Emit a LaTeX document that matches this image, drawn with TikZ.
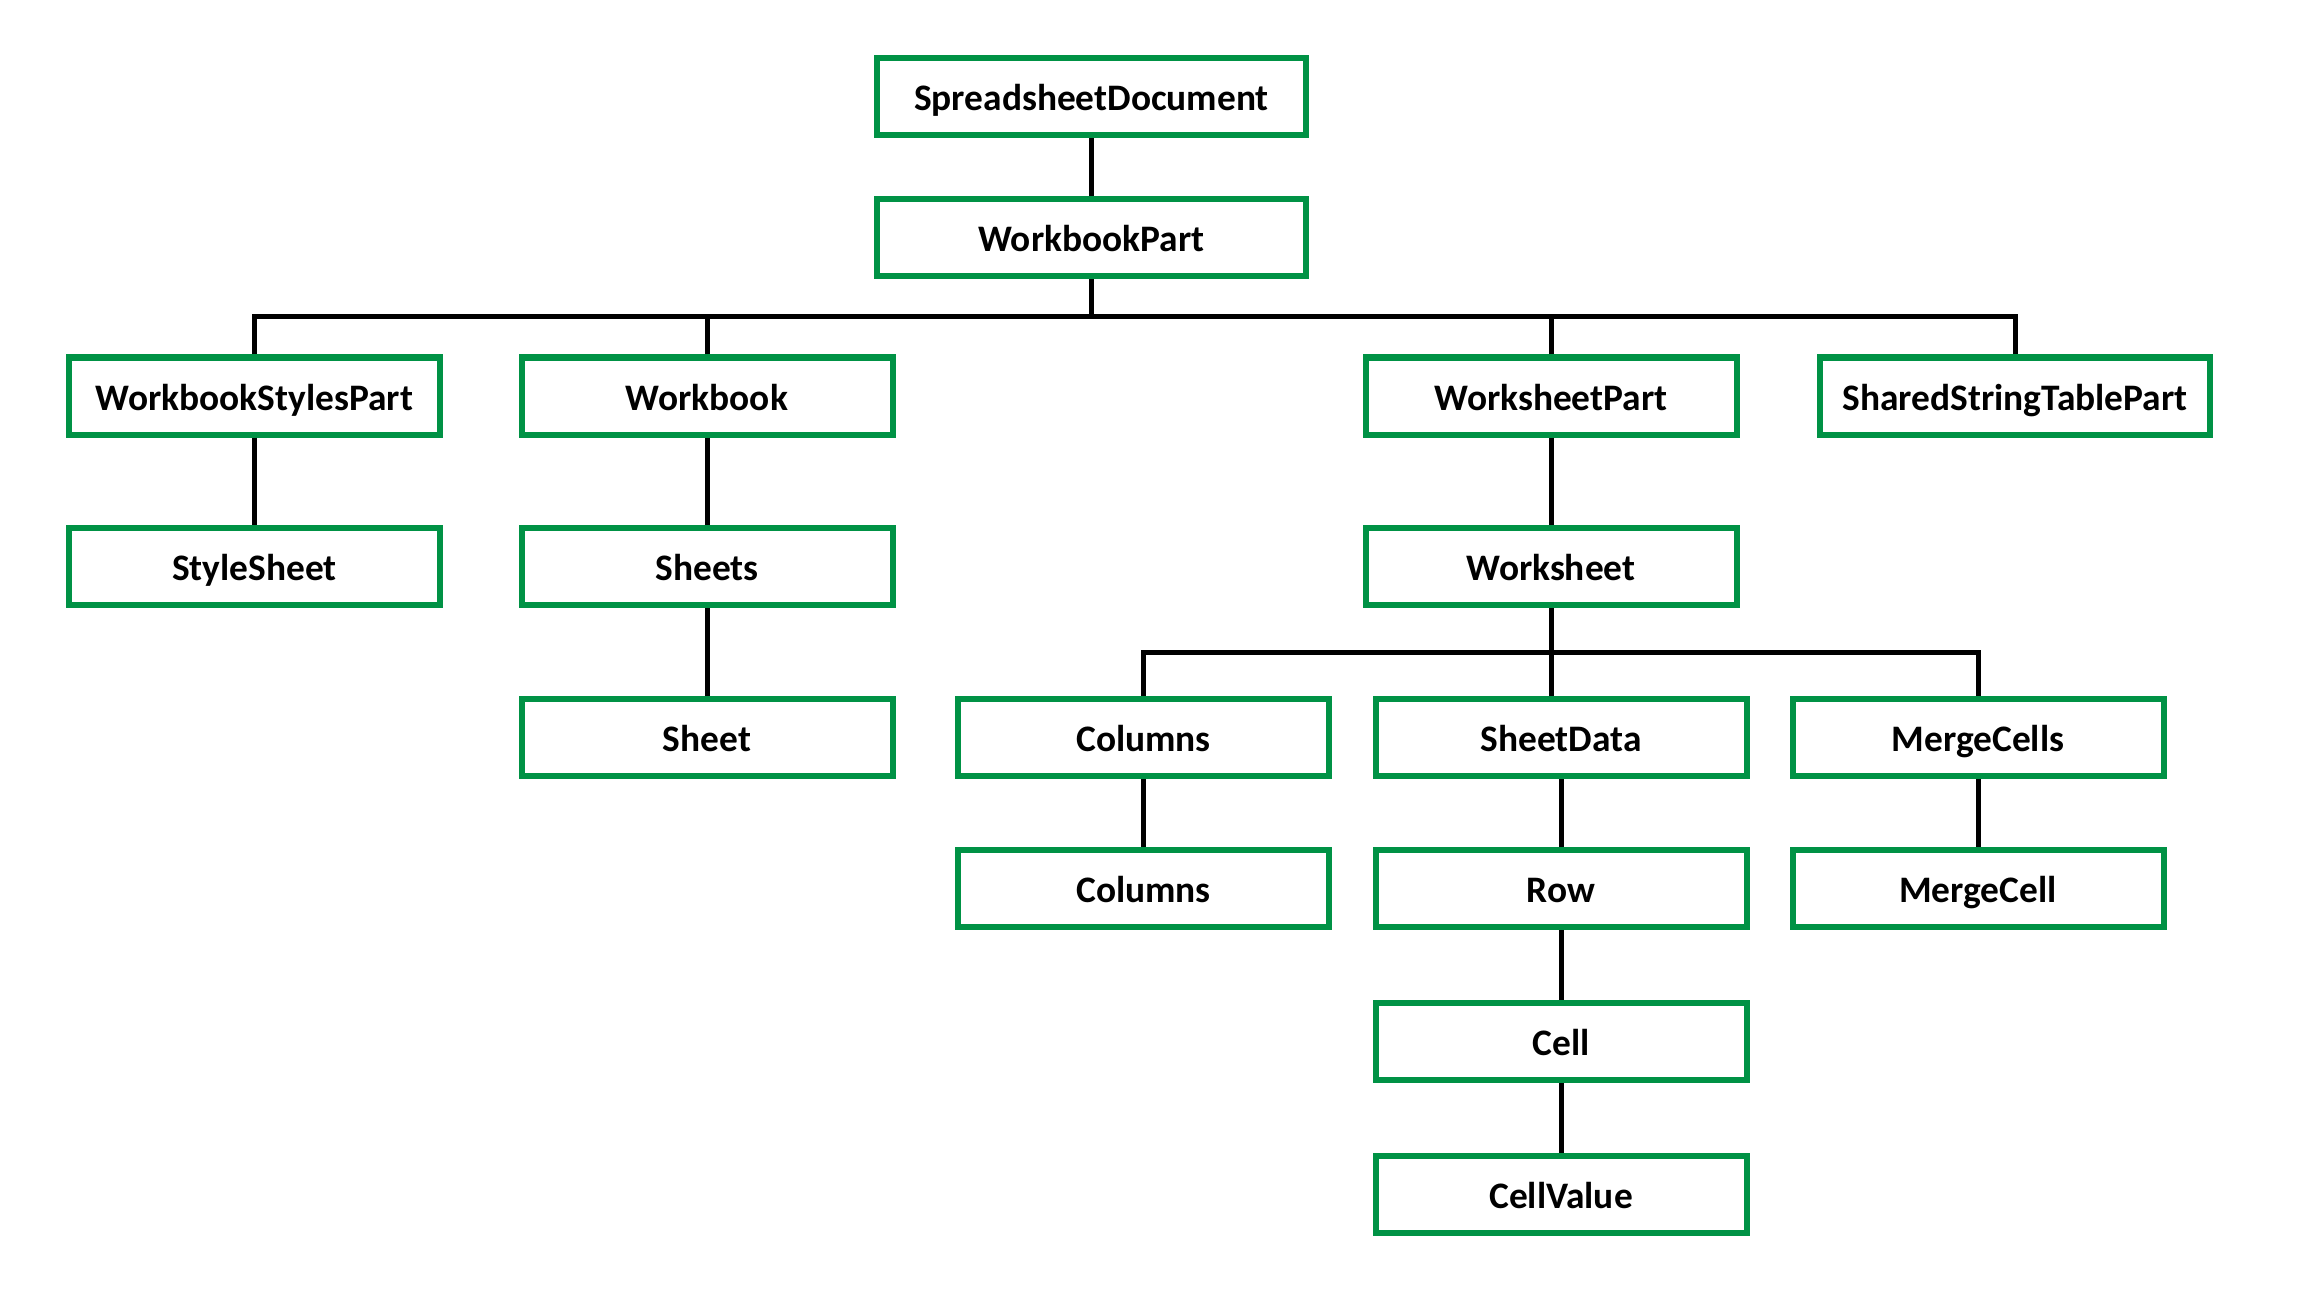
\documentclass[tikz,border=0pt]{standalone}
\usepackage{fontspec}
\setmainfont{Carlito}
\definecolor{boxgreen}{RGB}{0,146,69}
\begin{document}
\begin{tikzpicture}[x=0.5pt,y=-0.5pt,
  part/.style={draw=boxgreen, line width=3pt, fill=white, rectangle,
    minimum width=185.5pt, minimum height=38.5pt, inner sep=0pt,
    text height=14pt, text depth=0pt,
    font=\fontsize{18.7}{20}\selectfont\bfseries, text=black},
  wide/.style={minimum width=214.5pt},
  link/.style={draw=black, line width=2.5pt, line cap=butt, line join=miter}]
\useasboundingbox[fill=white] (0,0) rectangle (2303,1316);

% top of the hierarchy
\node[part,wide] (doc) at (1091.5,97) {SpreadsheetDocument};
\node[part,wide] (wbp) at (1091.5,237.5) {WorkbookPart};

% parts of the workbook
\node[part] (wsp) at (254.5,396) {WorkbookStylesPart};
\node[part] (wb) at (707,396) {Workbook};
\node[part] (wshp) at (1551,396) {WorksheetPart};
\node[part,minimum width=195pt] (sst) at (2015,396) {SharedStringTablePart};

\node[part] (style) at (254.5,566.5) {StyleSheet};
\node[part] (sheets) at (707,566.5) {Sheets};
\node[part] (ws) at (1551,566.5) {Worksheet};

\node[part] (sheet) at (707,737.5) {Sheet};
\node[part] (cols) at (1143.5,737.5) {Columns};
\node[part] (sdata) at (1561,737.5) {SheetData};
\node[part] (mcells) at (1978,737.5) {MergeCells};

\node[part] (col) at (1143.5,888.5) {Columns};
\node[part] (row) at (1561,888.5) {Row};
\node[part] (mcell) at (1978,888.5) {MergeCell};

\node[part] (cell) at (1561,1041.5) {Cell};
\node[part] (cval) at (1561,1194.5) {CellValue};

% bus lines
\coordinate (busA) at (0,317);
\coordinate (busB) at (0,652);

\path[link] (doc.south) -- (wbp.north);
\path[link] (wbp.south) -- (wbp.south |- busA);
\path[link] (wsp.north) |- (sst.north |- busA) -- (sst.north);
\path[link] (wb.north) -- (wb.north |- busA);
\path[link] (wshp.north) -- (wshp.north |- busA);

\path[link] (wsp.south) -- (style.north);
\path[link] (wb.south) -- (sheets.north);
\path[link] (sheets.south) -- (sheet.north);
\path[link] (wshp.south) -- (ws.north);

\path[link] (cols.north) |- (mcells.north |- busB) -- (mcells.north);
\path[link] (ws.south) -- (ws.south |- sdata.north);

\path[link] (cols.south) -- (col.north);
\path[link] (sdata.south) -- (row.north);
\path[link] (mcells.south) -- (mcell.north);
\path[link] (row.south) -- (cell.north);
\path[link] (cell.south) -- (cval.north);
\end{tikzpicture}
\end{document}
